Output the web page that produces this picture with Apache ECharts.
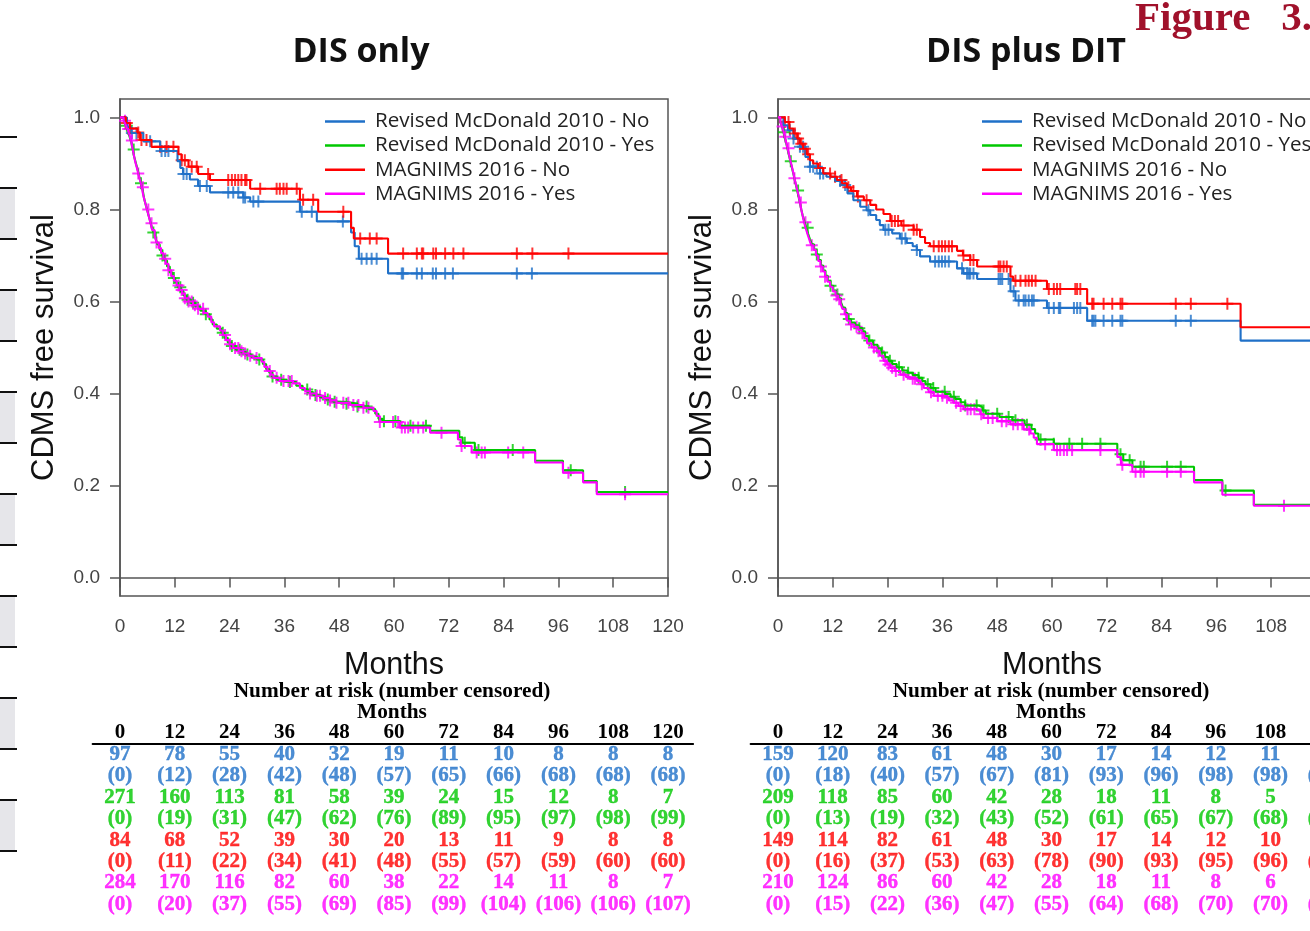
<!DOCTYPE html>
<html>
<head>
<meta charset="utf-8">
<script src="https://cdn.jsdelivr.net/npm/echarts@6/dist/echarts.min.js"></script>
<style>
html,body{margin:0;padding:0;overflow:hidden;background:#fff;}
#c{width:1340px;height:931px;}
</style>
</head>
<body>
<div id="c"></div>
<script>
// ---------------- DATA ----------------
const months = [0,12,24,36,48,60,72,84,96,108,120];
const yTicks = [0,0.2,0.4,0.6,0.8,1.0];
const seriesNames = ['Revised McDonald 2010 - No','Revised McDonald 2010 - Yes','MAGNIMS 2016 - No','MAGNIMS 2016 - Yes'];

// DIS only : step levels [month, survival]
const L_blue = [[0,1],[1.5,0.979],[2.5,0.966],[5.1,0.948],[8.8,0.927],[12.6,0.905],[13.2,0.89],[13.8,0.877],[15.3,0.865],[17.1,0.851],[19.7,0.837],[27.0,0.826],[28.5,0.817],[39.4,0.795],[43.1,0.774],[50.6,0.75],[51.4,0.72],[52.3,0.693],[58.7,0.661]];
const L_red = [[0,1],[1.3,0.988],[2.2,0.976],[3.8,0.967],[4.4,0.951],[6.9,0.936],[12.8,0.92],[13.5,0.907],[15.0,0.893],[17.1,0.877],[19.7,0.864],[28.5,0.845],[39.4,0.821],[43.4,0.795],[50.6,0.76],[51.2,0.737],[58.7,0.704]];
const L_green = [[0,1],[0.9,0.992],[1.3,0.982],[1.7,0.97],[2.1,0.958],[2.5,0.945],[2.8,0.93],[3.1,0.915],[3.5,0.9],[3.9,0.885],[4.2,0.872],[4.6,0.857],[5.0,0.84],[5.3,0.823],[5.7,0.808],[6.1,0.793],[6.5,0.778],[6.9,0.763],[7.3,0.75],[7.8,0.737],[8.2,0.724],[8.7,0.712],[9.2,0.7],[9.7,0.689],[10.3,0.676],[10.9,0.663],[11.5,0.651],[12.1,0.641],[12.7,0.631],[13.3,0.622],[13.9,0.613],[14.6,0.604],[15.5,0.597],[16.5,0.589],[17.6,0.58],[18.8,0.572],[19.6,0.561],[20.3,0.55],[21.2,0.541],[22.2,0.532],[22.9,0.521],[23.6,0.511],[24.4,0.503],[25.4,0.495],[26.5,0.49],[27.6,0.485],[28.7,0.48],[30.0,0.474],[31.3,0.464],[32.0,0.453],[32.7,0.445],[33.3,0.437],[34.4,0.43],[36.5,0.425],[38.6,0.417],[40.0,0.409],[41.1,0.403],[42.3,0.397],[43.8,0.392],[45.2,0.387],[46.7,0.382],[49.0,0.378],[52.0,0.372],[54.5,0.366],[55.9,0.356],[56.6,0.345],[57.5,0.34],[61.3,0.33],[67.9,0.319],[74.3,0.305],[75.0,0.293],[77.7,0.277],[90.9,0.254],[97.0,0.233],[101.4,0.21],[104.4,0.186]];
const L_mag = [[0,1],[0.8,0.993],[1.2,0.985],[1.6,0.975],[2.0,0.965],[2.4,0.95],[2.7,0.935],[3.0,0.92],[3.3,0.905],[3.7,0.89],[4.0,0.878],[4.4,0.863],[4.8,0.848],[5.1,0.83],[5.5,0.815],[5.9,0.8],[6.3,0.785],[6.7,0.77],[7.1,0.755],[7.6,0.742],[8.0,0.728],[8.5,0.716],[9.0,0.705],[9.5,0.693],[10.0,0.682],[10.6,0.668],[11.2,0.655],[11.8,0.645],[12.4,0.635],[13.0,0.625],[13.6,0.617],[14.2,0.607],[15.0,0.6],[16.0,0.592],[17.0,0.584],[18.3,0.575],[19.2,0.567],[20.0,0.555],[20.6,0.546],[21.9,0.537],[22.5,0.527],[23.2,0.516],[24.0,0.507],[24.8,0.499],[26.0,0.492],[27.0,0.487],[28.2,0.482],[29.2,0.477],[31.0,0.469],[31.6,0.458],[32.3,0.449],[33.0,0.441],[33.6,0.434],[35.0,0.427],[37.9,0.422],[39.4,0.412],[40.5,0.405],[41.6,0.4],[43.0,0.395],[44.5,0.39],[46.0,0.385],[47.4,0.38],[50.4,0.375],[53.3,0.369],[55.5,0.362],[56.2,0.351],[56.9,0.338],[61.3,0.326],[67.9,0.315],[74.0,0.30],[74.6,0.286],[77.0,0.272],[90.9,0.25],[97.0,0.228],[101.4,0.207],[104.4,0.181]];

// DIS only : censoring times (months)
const L_blue_c = [2.6,3.6,6.6,9.1,9.9,10.6,13.9,14.6,17.5,19.0,23.7,24.8,25.9,27.0,27.4,29.2,30.3,39.8,42.0,48.8,52.9,54.0,55.1,56.2,61.7,62.0,65.0,66.1,68.5,69.2,71.2,72.9,86.9,90.2];
const L_red_c = [1.5,2.2,4.0,4.7,5.8,8.8,10.2,11.7,13.5,14.2,15.7,16.8,19.3,23.7,24.5,25.2,25.9,26.6,27.4,27.7,30.7,34.3,35.0,35.8,36.5,38.7,40.1,42.3,48.9,52.6,54.7,56.2,62.0,65.0,66.1,66.4,68.6,69.2,71.2,73.0,75.2,86.9,90.3,98.2];
const L_green_c = [1.5,3.0,4.6,7.3,9.3,11.8,13.2,14.8,16.0,18.8,22.5,24.5,26.2,27.9,30.5,33.4,35.3,37.2,41.0,42.8,45.5,47.0,49.6,52.0,54.0,57.8,60.3,63.6,67.0,75.5,78.5,86.0,98.7,110.6];
const L_mag_c = [1.1,1.8,2.6,4.0,5.0,6.2,6.9,8.0,9.9,10.6,12.8,13.5,14.2,15.0,15.7,16.4,17.1,18.2,23.0,24.1,25.2,25.9,26.6,27.4,28.5,29.9,32.8,34.3,35.8,36.9,37.6,41.6,43.1,43.8,44.9,46.0,47.4,48.9,50.0,51.1,52.2,53.3,54.4,56.9,59.8,60.9,61.7,62.4,63.1,64.2,65.3,66.4,70.4,74.8,78.1,79.2,79.9,85.0,88.3,98.2,110.6];

// DIS plus DIT : step levels
const R_blue = [[0,1],[1.2,0.983],[2.2,0.972],[3.4,0.954],[4.8,0.936],[6.0,0.914],[7.0,0.893],[9.2,0.878],[10.6,0.871],[12.5,0.862],[13.9,0.853],[15.2,0.835],[16.5,0.82],[18.0,0.806],[19.4,0.798],[20.2,0.788],[21.5,0.777],[22.3,0.766],[23.1,0.756],[25.0,0.748],[26.7,0.737],[28.2,0.727],[29.5,0.72],[30.4,0.712],[31.1,0.698],[33.3,0.687],[39.2,0.672],[40.6,0.661],[43.6,0.649],[50.9,0.622],[52.0,0.602],[58.9,0.586],[67.7,0.558],[101.3,0.515]];
const R_red = [[0,1],[1.5,0.99],[2.5,0.976],[3.4,0.965],[4.2,0.954],[4.8,0.943],[5.5,0.932],[6.3,0.92],[7.0,0.907],[7.7,0.9],[8.8,0.89],[9.9,0.878],[11.5,0.871],[12.9,0.864],[14.0,0.857],[15.1,0.848],[16.0,0.84],[17.3,0.828],[18.8,0.82],[20.2,0.81],[21.5,0.8],[23.1,0.79],[24.6,0.775],[27.0,0.765],[29.7,0.756],[31.1,0.74],[32.2,0.727],[33.3,0.72],[39.2,0.71],[40.5,0.70],[42.1,0.69],[43.6,0.676],[50.9,0.654],[51.5,0.645],[58.9,0.627],[67.7,0.595],[101.3,0.544]];
const R_green = [[0,1],[0.5,0.99],[0.9,0.98],[1.2,0.968],[1.5,0.956],[1.8,0.944],[2.1,0.931],[2.4,0.918],[2.7,0.905],[3.0,0.893],[3.3,0.88],[3.6,0.867],[3.9,0.854],[4.2,0.841],[4.5,0.828],[4.8,0.814],[5.1,0.8],[5.4,0.787],[5.8,0.773],[6.2,0.76],[6.6,0.747],[7.0,0.735],[7.4,0.724],[7.9,0.713],[8.4,0.702],[8.9,0.69],[9.4,0.678],[9.9,0.667],[10.4,0.656],[10.9,0.645],[11.5,0.634],[12.1,0.624],[12.7,0.615],[13.3,0.607],[13.8,0.598],[14.2,0.587],[14.7,0.575],[15.2,0.562],[16.0,0.554],[16.9,0.548],[17.8,0.542],[18.5,0.535],[19.1,0.525],[19.8,0.515],[20.8,0.506],[21.8,0.498],[22.6,0.489],[23.4,0.479],[24.2,0.471],[25.0,0.464],[26.0,0.457],[27.2,0.45],[28.4,0.445],[29.5,0.44],[30.8,0.434],[31.6,0.427],[32.3,0.42],[33.4,0.412],[34.5,0.404],[36.6,0.399],[37.8,0.393],[38.8,0.388],[40.0,0.381],[41.0,0.374],[44.0,0.37],[44.8,0.363],[45.5,0.356],[48.5,0.349],[51.3,0.342],[54.0,0.332],[55.5,0.323],[56.3,0.313],[57.0,0.30],[60.4,0.291],[74.3,0.268],[75.6,0.255],[77.6,0.241],[91.1,0.212],[97.3,0.189],[104.2,0.158]];
const R_mag = [[0,1],[0.5,0.99],[0.9,0.98],[1.2,0.97],[1.5,0.958],[1.8,0.946],[2.1,0.933],[2.4,0.92],[2.7,0.907],[3.0,0.895],[3.3,0.882],[3.6,0.868],[3.9,0.856],[4.2,0.843],[4.5,0.83],[4.8,0.815],[5.1,0.8],[5.4,0.786],[5.7,0.772],[6.1,0.758],[6.5,0.745],[6.9,0.733],[7.3,0.722],[7.8,0.712],[8.3,0.7],[8.8,0.688],[9.3,0.676],[9.8,0.665],[10.3,0.654],[10.8,0.643],[11.4,0.632],[12.0,0.622],[12.6,0.613],[13.2,0.605],[13.7,0.596],[14.1,0.584],[14.6,0.572],[15.1,0.558],[15.8,0.55],[16.7,0.545],[17.6,0.538],[18.3,0.531],[18.9,0.52],[19.5,0.509],[20.5,0.5],[21.6,0.492],[22.3,0.482],[23.1,0.471],[23.9,0.463],[24.6,0.456],[25.6,0.449],[26.8,0.441],[28.0,0.436],[28.9,0.432],[30.4,0.427],[31.2,0.42],[31.9,0.412],[33.0,0.403],[34.1,0.395],[36.3,0.391],[37.4,0.385],[38.4,0.38],[39.5,0.373],[40.6,0.366],[43.6,0.362],[44.3,0.355],[45.0,0.347],[48.0,0.34],[50.9,0.333],[53.8,0.322],[55.3,0.313],[56.0,0.304],[56.7,0.29],[60.4,0.277],[74.3,0.262],[75.1,0.245],[77.6,0.23],[91.1,0.207],[97.3,0.18],[104.2,0.156]];

// DIS plus DIT : censoring times
const R_blue_c = [2.6,3.4,4.8,5.5,7.0,7.7,8.5,9.2,9.9,13.6,14.7,19.8,23.5,24.2,27.1,27.9,30.4,34.4,35.2,35.9,36.6,37.4,40.3,41.4,41.8,42.1,42.8,48.3,48.7,49.1,50.5,51.6,52.7,53.8,54.2,54.9,55.6,56.0,59.3,60.4,61.5,61.8,64.8,65.5,66.2,68.8,69.1,69.5,71.3,73.2,75.0,75.4,87.1,90.4];
const R_red_c = [1.5,2.3,3.7,4.4,5.1,5.9,6.6,9.2,11.4,12.5,13.9,15.4,16.5,17.5,19.4,24.9,25.6,26.3,27.5,29.7,30.4,34.1,35.2,35.9,36.6,37.4,38.1,40.6,42.1,42.8,48.3,48.7,49.4,50.1,52.0,53.1,54.2,54.9,55.6,56.4,59.3,60.4,61.1,61.8,65.1,65.5,66.2,68.8,69.1,71.3,73.2,75.0,75.4,87.1,90.4,98.4];
const R_green_c = [1.3,2.8,4.4,6.5,8.5,11.5,13.0,15.5,17.8,20.0,22.8,24.5,26.5,28.5,30.8,32.8,34.0,36.5,38.5,41.0,43.5,45.0,48.0,50.5,52.0,54.5,57.5,60.4,63.8,66.6,70.6,75.0,77.0,79.4,80.1,85.2,88.2,98.0];
const R_mag_c = [1.0,1.6,2.3,3.6,5.0,6.0,7.4,9.4,10.3,12.8,13.4,14.9,16.0,17.2,18.5,21.0,22.0,23.5,24.2,25.0,25.8,27.5,29.5,30.0,31.5,33.5,35.0,36.0,37.0,39.0,40.0,41.5,42.2,43.0,44.5,46.0,47.0,49.0,50.0,51.5,52.5,53.5,55.0,58.5,61.1,61.8,62.6,63.3,64.4,70.6,75.4,78.3,79.4,80.1,85.2,88.2,110.8];

// Number at risk tables (left: DIS only, right: DIS plus DIT)
const L_blue_n = [97,78,55,40,32,19,11,10,8,8,8];
const L_blue_cn = [0,12,28,42,48,57,65,66,68,68,68];
const L_green_n = [271,160,113,81,58,39,24,15,12,8,7];
const L_green_cn = [0,19,31,47,62,76,89,95,97,98,99];
const L_red_n = [84,68,52,39,30,20,13,11,9,8,8];
const L_red_cn = [0,11,22,34,41,48,55,57,59,60,60];
const L_mag_n = [284,170,116,82,60,38,22,14,11,8,7];
const L_mag_cn = [0,20,37,55,69,85,99,104,106,106,107];
const R_blue_n = [159,120,83,61,48,30,17,14,12,11,11];
const R_blue_cn = [0,18,40,57,67,81,93,96,98,98,98];
const R_green_n = [209,118,85,60,42,28,18,11,8,5,5];
const R_green_cn = [0,13,19,32,43,52,61,65,67,68,68];
const R_red_n = [149,114,82,61,48,30,17,14,12,10,10];
const R_red_cn = [0,16,37,53,63,78,90,93,95,96,96];
const R_mag_n = [210,124,86,60,42,28,18,11,8,6,5];
const R_mag_cn = [0,15,22,36,47,55,64,68,70,70,71];

// ---------------- STYLE ----------------
const COL = {blue:'#1f70c8', green:'#00c800', red:'#ff0000', mag:'#ff00ff'};
const AX = '#555';
const PLUS = 'path://M5,0H7V12H5Z M0,5H12V7H0Z';
const SERIF = '"Liberation Serif", "Times New Roman", serif';
const SANS = '"Liberation Sans", Arial, sans-serif';
const OPEN = '"Open Sans", sans-serif';

function levelAt(steps, t){ let s = steps[0][1]; for (const p of steps){ if (p[0] <= t) s = p[1]; else break; } return s; }
function stepData(steps){ return steps.concat([[120, steps[steps.length-1][1]]]); }

const chart = echarts.init(document.getElementById('c'), null, {renderer:'canvas'});

const plotGrids = [
  {left:120, top:99, width:548, height:497, show:true, borderColor:AX, borderWidth:1.5, backgroundColor:'transparent', outerBoundsMode:'none', containLabel:false},
  {left:778, top:99, width:548, height:497, show:true, borderColor:AX, borderWidth:1.5, backgroundColor:'transparent', outerBoundsMode:'none', containLabel:false}
];
const tableGrids = [
  {left:92.6, top:744, width:600.5, height:171, outerBoundsMode:'none', containLabel:false},
  {left:750.6, top:744, width:599.6, height:171, outerBoundsMode:'none', containLabel:false}
];

function plotX(gi){ return {gridIndex:gi, type:'value', min:0, max:120, interval:12,
  axisLine:{show:true, lineStyle:{color:AX, width:1.5}}, axisTick:{show:true, length:10, lineStyle:{color:AX, width:1.5}},
  axisLabel:{margin:21, fontSize:19, fontFamily:SANS, color:'#444'}, splitLine:{show:false},
  name:'Months', nameLocation:'middle', nameGap:54, nameTextStyle:{fontSize:30.5, fontFamily:SANS, color:'#111'}}; }
function plotY(gi){ return {gridIndex:gi, type:'value', min:-0.04, max:1.04,
  axisLine:{show:true, lineStyle:{color:AX, width:1.5}},
  axisTick:{show:true, length:10, customValues:yTicks, lineStyle:{color:AX, width:1.5}},
  axisLabel:{customValues:yTicks, margin:20, fontSize:19, fontFamily:SANS, color:'#444', formatter:v=>v.toFixed(1)},
  splitLine:{show:false},
  name:'CDMS free survival', nameLocation:'middle', nameGap:60, nameRotate:90,
  nameTextStyle:{fontSize:31, fontFamily:SANS, color:'#111'}}; }
function tableX(gi){ return {gridIndex:gi, type:'value', position:'top', min:-6, max:125.5,
  axisLine:{show:true, lineStyle:{color:'#000', width:2}}, axisTick:{show:false},
  axisLabel:{customValues:months, margin:1, fontSize:21, fontWeight:'bold', fontFamily:SERIF, color:'#000'},
  splitLine:{show:false}}; }
function tableY(gi){ return {gridIndex:gi, type:'category', inverse:true, data:['0','1','2','3','4','5','6','7'], show:false}; }

const series = [];
function addCurve(ax, name, steps, cens, color){
  series.push({type:'line', name:name, xAxisIndex:ax, yAxisIndex:ax, step:'end', symbol:'none',
    lineStyle:{color:color, width:2.1}, itemStyle:{color:color}, data:stepData(steps), silent:true});
  series.push({type:'scatter', name:name+' cens', xAxisIndex:ax, yAxisIndex:ax, symbol:PLUS, symbolSize:[12,12],
    itemStyle:{color:color}, data:cens.map(t=>[t, levelAt(steps,t)]), silent:true});
}
addCurve(0, seriesNames[0], L_blue, L_blue_c, COL.blue);
addCurve(0, seriesNames[1], L_green, L_green_c, COL.green);
addCurve(0, seriesNames[2], L_red, L_red_c, COL.red);
addCurve(0, seriesNames[3], L_mag, L_mag_c, COL.mag);
addCurve(1, seriesNames[0], R_blue, R_blue_c, COL.blue);
addCurve(1, seriesNames[1], R_green, R_green_c, COL.green);
addCurve(1, seriesNames[2], R_red, R_red_c, COL.red);
addCurve(1, seriesNames[3], R_mag, R_mag_c, COL.mag);

function addTable(ax, rows){
  rows.forEach((r, ri)=>{
    series.push({type:'scatter', xAxisIndex:ax, yAxisIndex:ax, symbolSize:0.1, itemStyle:{color:'transparent'}, silent:true,
      data: months.map((m, i)=>[m, ri, r.vals[i]]),
      label:{show:true, position:'inside', color:r.color, fontSize:21, fontWeight:'bold', fontFamily:SERIF,
        textBorderColor:r.color, textBorderWidth:0.4,
        formatter:p=> r.paren ? '('+p.value[2]+')' : String(p.value[2])}});
  });
}
addTable(2, [
  {vals:L_blue_n, color:COL.blue}, {vals:L_blue_cn, color:COL.blue, paren:true},
  {vals:L_green_n, color:COL.green}, {vals:L_green_cn, color:COL.green, paren:true},
  {vals:L_red_n, color:COL.red}, {vals:L_red_cn, color:COL.red, paren:true},
  {vals:L_mag_n, color:COL.mag}, {vals:L_mag_cn, color:COL.mag, paren:true}]);
addTable(3, [
  {vals:R_blue_n, color:COL.blue}, {vals:R_blue_cn, color:COL.blue, paren:true},
  {vals:R_green_n, color:COL.green}, {vals:R_green_cn, color:COL.green, paren:true},
  {vals:R_red_n, color:COL.red}, {vals:R_red_cn, color:COL.red, paren:true},
  {vals:R_mag_n, color:COL.mag}, {vals:R_mag_cn, color:COL.mag, paren:true}]);

function legendAt(left){ return {left:left, top:111, padding:0, orient:'vertical', itemWidth:40, itemHeight:14, itemGap:3.1,
  data:seriesNames, selectedMode:false, icon:'path://M0,6H40V8.5H0Z',
  textStyle:{fontSize:20.6, fontFamily:OPEN, color:'#222', padding:[0,0,0,5], lineHeight:20}}; }

// decorative remnants at the left edge of the slide
const edgeLines = [137,188,239,290,341,392,443,494,545,596,647,698,749,800,851];
const graphics = [];
for (let i=1; i+1<edgeLines.length; i+=2){
  graphics.push({type:'rect', shape:{x:0, y:edgeLines[i], width:15, height:edgeLines[i+1]-edgeLines[i]}, style:{fill:'#e6e6ea'}, silent:true});
}
edgeLines.forEach(y=>graphics.push({type:'rect', shape:{x:0, y:y-1, width:17, height:2}, style:{fill:'#111'}, silent:true}));
graphics.push(
  {type:'text', x:361, y:52, style:{text:'DIS only', font:'bold 34px '+OPEN, fill:'#111', align:'center', verticalAlign:'middle'}},
  {type:'text', x:1026, y:52, style:{text:'DIS plus DIT', font:'bold 34px '+OPEN, fill:'#111', align:'center', verticalAlign:'middle'}},
  {type:'text', x:1135, y:19, style:{text:'Figure   3.', font:'bold 41px '+SERIF, fill:'#a0112b', align:'left', verticalAlign:'middle'}},
  {type:'text', x:392, y:691, style:{text:'Number at risk (number censored)', font:'bold 21.3px '+SERIF, fill:'#000', align:'center', verticalAlign:'middle'}},
  {type:'text', x:392, y:712, style:{text:'Months', font:'bold 21.3px '+SERIF, fill:'#000', align:'center', verticalAlign:'middle'}},
  {type:'text', x:1051, y:691, style:{text:'Number at risk (number censored)', font:'bold 21.3px '+SERIF, fill:'#000', align:'center', verticalAlign:'middle'}},
  {type:'text', x:1051, y:712, style:{text:'Months', font:'bold 21.3px '+SERIF, fill:'#000', align:'center', verticalAlign:'middle'}}
);

chart.setOption({
  animation:false,
  backgroundColor:'#fff',
  grid: plotGrids.concat(tableGrids),
  xAxis: [plotX(0), plotX(1), tableX(2), tableX(3)],
  yAxis: [plotY(0), plotY(1), tableY(2), tableY(3)],
  legend: [legendAt(325), legendAt(982)],
  series: series,
  graphic: graphics
});
</script>
</body>
</html>
